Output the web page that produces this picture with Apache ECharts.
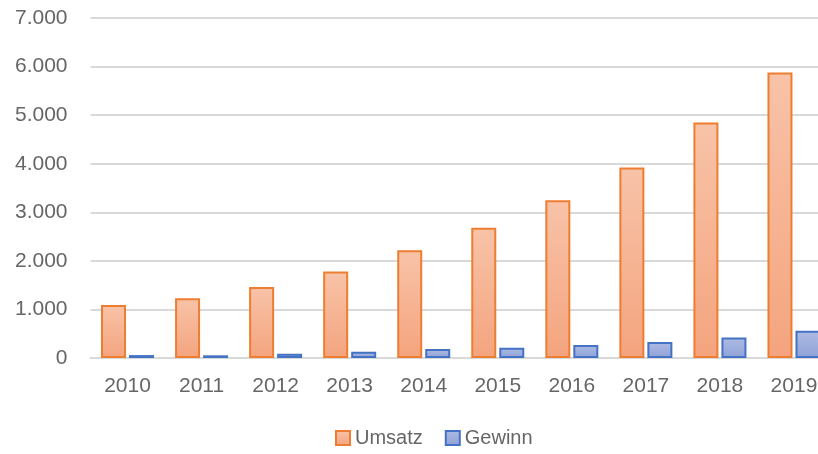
<!DOCTYPE html>
<html lang="de">
<head>
    <title>Umsatz und Gewinn 2010-2019</title>
    <meta charset="utf-8">
    <style>
        html, body {margin:0; padding:0; background:#fff; overflow:hidden;}
        #container{width: 831px; height: 454px;}
    </style>
</head>
<body>
<div id="container"></div>

<script type="text/javascript" src="https://cdn.jsdelivr.net/npm/echarts@6/dist/echarts.min.js"></script>
<script>
// Werte
var jahre = ['2010', '2011', '2012', '2013', '2014', '2015', '2016', '2017', '2018', '2019'];
var umsatz = [1090, 1230, 1460, 1780, 2220, 2680, 3250, 3920, 4850, 5880];
var gewinn = [60, 55, 90, 130, 185, 210, 270, 330, 420, 560];

var schrift = '"Liberation Sans", "Open Sans", sans-serif';
var grau = '#666666';

function verlauf(oben, unten) {
    return {
        type: 'linear', x: 0, y: 0, x2: 0, y2: 1,
        colorStops: [{offset: 0, color: oben}, {offset: 1, color: unten}]
    };
}

// das Diagramm ist rechts abgeschnitten, darum ist der Container breiter als das Fenster
var myChart = echarts.init(document.getElementById('container'));
var options = {
    animation: false,
    textStyle: {fontFamily: schrift},
    grid: {left: 90.5, right: 0, top: 18, bottom: 96, containLabel: false},
    legend: {
        top: 423,
        left: 330,
        itemWidth: 14,
        itemHeight: 14,
        itemGap: 22,
        icon: 'rect',
        textStyle: {color: grau, fontSize: 20, fontFamily: schrift},
        data: ['Umsatz', 'Gewinn']
    },
    xAxis: {
        type: 'category',
        data: jahre,
        axisLine: {lineStyle: {color: '#d9d9d9', width: 2}},
        axisTick: {show: false},
        axisLabel: {color: grau, fontSize: 21, margin: 18, fontFamily: schrift}
    },
    yAxis: {
        type: 'value',
        min: 0,
        max: 7000,
        interval: 1000,
        axisLine: {show: false},
        axisTick: {show: false},
        splitLine: {lineStyle: {color: '#d9d9d9', width: 2}},
        axisLabel: {
            color: grau, fontSize: 21, margin: 23, fontFamily: schrift,
            formatter: function (v) {
                return v.toString().replace(/\B(?=(\d{3})+(?!\d))/g, '.');
            }
        }
    },
    series: [
        {
            name: 'Umsatz',
            type: 'bar',
            data: umsatz,
            barWidth: 25,
            barGap: '12%',
            itemStyle: {
                color: verlauf('#f8c3a8', '#f4a47e'),
                borderColor: '#ed7d31',
                borderWidth: 2
            }
        },
        {
            name: 'Gewinn',
            type: 'bar',
            data: gewinn,
            barWidth: 25,
            itemStyle: {
                color: verlauf('#aebbe3', '#8fa2d7'),
                borderColor: '#4472c4',
                borderWidth: 2
            }
        }
    ]
};
myChart.setOption(options);
</script>
</body>
</html>
